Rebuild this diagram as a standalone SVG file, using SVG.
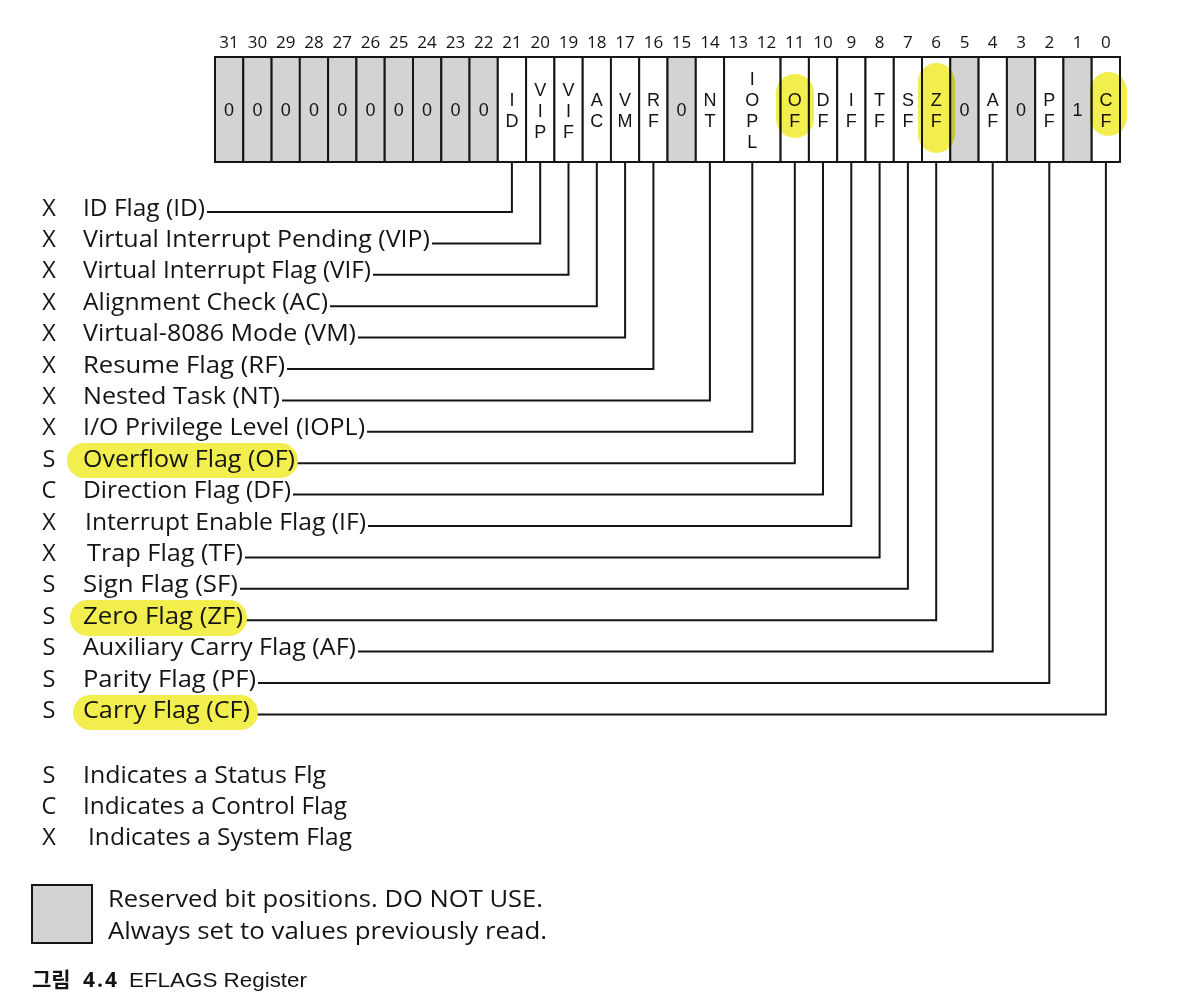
<svg xmlns="http://www.w3.org/2000/svg" width="1180" height="1000" viewBox="0 0 1180 1000">
<style>
.t{font-family:"Open Sans","Noto Sans",sans-serif;font-size:23.5px;font-weight:500;fill:#141414}
.bn{font-family:"Open Sans","Noto Sans",sans-serif;font-size:17px;font-weight:500;fill:#141414;text-anchor:middle}
.cl{font-family:"Liberation Sans",Arial,sans-serif;font-size:18px;fill:#141414;text-anchor:middle}
.k{text-anchor:middle}
.res{fill:#d3d3d3;stroke:#151515;stroke-width:2}
.flg{fill:#ffffff;stroke:#151515;stroke-width:2}
.conn{fill:none;stroke:#151515;stroke-width:2}
.hl{fill:#f2ee4e}
.hlm{fill:#f2ee4e;mix-blend-mode:multiply}
</style>
<rect x="0" y="0" width="1180" height="1000" fill="#ffffff"/>

<g id="bit-numbers">
<text class="bn" x="229.1" y="48">31</text>
<text class="bn" x="257.4" y="48">30</text>
<text class="bn" x="285.7" y="48">29</text>
<text class="bn" x="314.0" y="48">28</text>
<text class="bn" x="342.3" y="48">27</text>
<text class="bn" x="370.6" y="48">26</text>
<text class="bn" x="398.8" y="48">25</text>
<text class="bn" x="427.1" y="48">24</text>
<text class="bn" x="455.4" y="48">23</text>
<text class="bn" x="483.7" y="48">22</text>
<text class="bn" x="511.9" y="48">21</text>
<text class="bn" x="540.2" y="48">20</text>
<text class="bn" x="568.5" y="48">19</text>
<text class="bn" x="596.8" y="48">18</text>
<text class="bn" x="625.1" y="48">17</text>
<text class="bn" x="653.4" y="48">16</text>
<text class="bn" x="681.6" y="48">15</text>
<text class="bn" x="709.9" y="48">14</text>
<text class="bn" x="738.2" y="48">13</text>
<text class="bn" x="766.5" y="48">12</text>
<text class="bn" x="794.8" y="48">11</text>
<text class="bn" x="823.0" y="48">10</text>
<text class="bn" x="851.3" y="48">9</text>
<text class="bn" x="879.6" y="48">8</text>
<text class="bn" x="907.9" y="48">7</text>
<text class="bn" x="936.2" y="48">6</text>
<text class="bn" x="964.5" y="48">5</text>
<text class="bn" x="992.7" y="48">4</text>
<text class="bn" x="1021.0" y="48">3</text>
<text class="bn" x="1049.3" y="48">2</text>
<text class="bn" x="1077.6" y="48">1</text>
<text class="bn" x="1105.9" y="48">0</text>
</g>

<g id="register">
<g id="bit-31"><rect class="res" x="215.0" y="57" width="28.3" height="105"/><text class="cl" x="229.1" y="116">0</text></g>
<g id="bit-30"><rect class="res" x="243.3" y="57" width="28.3" height="105"/><text class="cl" x="257.4" y="116">0</text></g>
<g id="bit-29"><rect class="res" x="271.6" y="57" width="28.3" height="105"/><text class="cl" x="285.7" y="116">0</text></g>
<g id="bit-28"><rect class="res" x="299.8" y="57" width="28.3" height="105"/><text class="cl" x="314.0" y="116">0</text></g>
<g id="bit-27"><rect class="res" x="328.1" y="57" width="28.3" height="105"/><text class="cl" x="342.3" y="116">0</text></g>
<g id="bit-26"><rect class="res" x="356.4" y="57" width="28.3" height="105"/><text class="cl" x="370.6" y="116">0</text></g>
<g id="bit-25"><rect class="res" x="384.7" y="57" width="28.3" height="105"/><text class="cl" x="398.8" y="116">0</text></g>
<g id="bit-24"><rect class="res" x="413.0" y="57" width="28.3" height="105"/><text class="cl" x="427.1" y="116">0</text></g>
<g id="bit-23"><rect class="res" x="441.3" y="57" width="28.3" height="105"/><text class="cl" x="455.4" y="116">0</text></g>
<g id="bit-22"><rect class="res" x="469.5" y="57" width="28.3" height="105"/><text class="cl" x="483.7" y="116">0</text></g>
<g id="bit-21-ID"><rect class="flg" x="497.8" y="57" width="28.3" height="105"/><text class="cl"><tspan x="511.9" y="106">I</tspan><tspan x="511.9" y="127">D</tspan></text></g>
<g id="bit-20-VIP"><rect class="flg" x="526.1" y="57" width="28.3" height="105"/><text class="cl"><tspan x="540.2" y="95.5">V</tspan><tspan x="540.2" y="116.5">I</tspan><tspan x="540.2" y="137.5">P</tspan></text></g>
<g id="bit-19-VIF"><rect class="flg" x="554.4" y="57" width="28.3" height="105"/><text class="cl"><tspan x="568.5" y="95.5">V</tspan><tspan x="568.5" y="116.5">I</tspan><tspan x="568.5" y="137.5">F</tspan></text></g>
<g id="bit-18-AC"><rect class="flg" x="582.7" y="57" width="28.3" height="105"/><text class="cl"><tspan x="596.8" y="106">A</tspan><tspan x="596.8" y="127">C</tspan></text></g>
<g id="bit-17-VM"><rect class="flg" x="610.9" y="57" width="28.3" height="105"/><text class="cl"><tspan x="625.1" y="106">V</tspan><tspan x="625.1" y="127">M</tspan></text></g>
<g id="bit-16-RF"><rect class="flg" x="639.2" y="57" width="28.3" height="105"/><text class="cl"><tspan x="653.4" y="106">R</tspan><tspan x="653.4" y="127">F</tspan></text></g>
<g id="bit-15"><rect class="res" x="667.5" y="57" width="28.3" height="105"/><text class="cl" x="681.6" y="116">0</text></g>
<g id="bit-14-NT"><rect class="flg" x="695.8" y="57" width="28.3" height="105"/><text class="cl"><tspan x="709.9" y="106">N</tspan><tspan x="709.9" y="127">T</tspan></text></g>
<g id="bit-13-12-IOPL"><rect class="flg" x="724.1" y="57" width="56.5" height="105"/><text class="cl"><tspan x="752.3" y="85">I</tspan><tspan x="752.3" y="106">O</tspan><tspan x="752.3" y="127">P</tspan><tspan x="752.3" y="148">L</tspan></text></g>
<g id="bit-11-OF"><rect class="flg" x="780.6" y="57" width="28.3" height="105"/><text class="cl"><tspan x="794.8" y="106">O</tspan><tspan x="794.8" y="127">F</tspan></text></g>
<g id="bit-10-DF"><rect class="flg" x="808.9" y="57" width="28.3" height="105"/><text class="cl"><tspan x="823.0" y="106">D</tspan><tspan x="823.0" y="127">F</tspan></text></g>
<g id="bit-9-IF"><rect class="flg" x="837.2" y="57" width="28.3" height="105"/><text class="cl"><tspan x="851.3" y="106">I</tspan><tspan x="851.3" y="127">F</tspan></text></g>
<g id="bit-8-TF"><rect class="flg" x="865.5" y="57" width="28.3" height="105"/><text class="cl"><tspan x="879.6" y="106">T</tspan><tspan x="879.6" y="127">F</tspan></text></g>
<g id="bit-7-SF"><rect class="flg" x="893.8" y="57" width="28.3" height="105"/><text class="cl"><tspan x="907.9" y="106">S</tspan><tspan x="907.9" y="127">F</tspan></text></g>
<g id="bit-6-ZF"><rect class="flg" x="922.0" y="57" width="28.3" height="105"/><text class="cl"><tspan x="936.2" y="106">Z</tspan><tspan x="936.2" y="127">F</tspan></text></g>
<g id="bit-5"><rect class="res" x="950.3" y="57" width="28.3" height="105"/><text class="cl" x="964.5" y="116">0</text></g>
<g id="bit-4-AF"><rect class="flg" x="978.6" y="57" width="28.3" height="105"/><text class="cl"><tspan x="992.7" y="106">A</tspan><tspan x="992.7" y="127">F</tspan></text></g>
<g id="bit-3"><rect class="res" x="1006.9" y="57" width="28.3" height="105"/><text class="cl" x="1021.0" y="116">0</text></g>
<g id="bit-2-PF"><rect class="flg" x="1035.2" y="57" width="28.3" height="105"/><text class="cl"><tspan x="1049.3" y="106">P</tspan><tspan x="1049.3" y="127">F</tspan></text></g>
<g id="bit-1"><rect class="res" x="1063.4" y="57" width="28.3" height="105"/><text class="cl" x="1077.6" y="116">1</text></g>
<g id="bit-0-CF"><rect class="flg" x="1091.7" y="57" width="28.3" height="105"/><text class="cl"><tspan x="1105.9" y="106">C</tspan><tspan x="1105.9" y="127">F</tspan></text></g>
</g>

<g id="register-highlights">
<rect class="hlm" x="776" y="74" width="38" height="64" rx="19"/>
<rect class="hlm" x="918" y="63" width="37" height="90" rx="18.5"/>
<rect class="hlm" x="1090" y="72" width="37" height="64" rx="18.5"/>
</g>

<g id="connectors">
<path class="conn" d="M207 212H511.9V162"/>
<path class="conn" d="M432 243.4H540.2V162"/>
<path class="conn" d="M373 274.8H568.5V162"/>
<path class="conn" d="M330 306.2H596.8V162"/>
<path class="conn" d="M358 337.6H625.1V162"/>
<path class="conn" d="M287 369H653.4V162"/>
<path class="conn" d="M282 400.4H709.9V162"/>
<path class="conn" d="M367 431.8H752.3V162"/>
<path class="conn" d="M297 463.2H794.8V162"/>
<path class="conn" d="M293 494.6H823.0V162"/>
<path class="conn" d="M368 526H851.3V162"/>
<path class="conn" d="M245 557.4H879.6V162"/>
<path class="conn" d="M240 588.8H907.9V162"/>
<path class="conn" d="M245 620.2H936.2V162"/>
<path class="conn" d="M358 651.6H992.7V162"/>
<path class="conn" d="M258 683H1049.3V162"/>
<path class="conn" d="M252 714.4H1105.9V162"/>
</g>

<g id="lbl-ID"><text class="t k" x="49" y="215.5">X</text><text class="t" x="83" y="215.5" textLength="122" lengthAdjust="spacingAndGlyphs">ID Flag (ID)</text></g>
<g id="lbl-VIP"><text class="t k" x="49" y="246.9">X</text><text class="t" x="83" y="246.9" textLength="347" lengthAdjust="spacingAndGlyphs">Virtual Interrupt Pending (VIP)</text></g>
<g id="lbl-VIF"><text class="t k" x="49" y="278.3">X</text><text class="t" x="83" y="278.3" textLength="288" lengthAdjust="spacingAndGlyphs">Virtual Interrupt Flag (VIF)</text></g>
<g id="lbl-AC"><text class="t k" x="49" y="309.7">X</text><text class="t" x="83" y="309.7" textLength="245" lengthAdjust="spacingAndGlyphs">Alignment Check (AC)</text></g>
<g id="lbl-VM"><text class="t k" x="49" y="341.1">X</text><text class="t" x="83" y="341.1" textLength="273" lengthAdjust="spacingAndGlyphs">Virtual-8086 Mode (VM)</text></g>
<g id="lbl-RF"><text class="t k" x="49" y="372.5">X</text><text class="t" x="83" y="372.5" textLength="202" lengthAdjust="spacingAndGlyphs">Resume Flag (RF)</text></g>
<g id="lbl-NT"><text class="t k" x="49" y="403.9">X</text><text class="t" x="83" y="403.9" textLength="197" lengthAdjust="spacingAndGlyphs">Nested Task (NT)</text></g>
<g id="lbl-IOPL"><text class="t k" x="49" y="435.3">X</text><text class="t" x="83" y="435.3" textLength="282" lengthAdjust="spacingAndGlyphs">I/O Privilege Level (IOPL)</text></g>
<g id="lbl-OF"><rect class="hl" x="67" y="443" width="231" height="35" rx="17.5"/><text class="t k" x="49" y="466.7">S</text><text class="t" x="83" y="466.7" textLength="212" lengthAdjust="spacingAndGlyphs">Overflow Flag (OF)</text></g>
<g id="lbl-DF"><text class="t k" x="49" y="498.1">C</text><text class="t" x="83" y="498.1" textLength="208" lengthAdjust="spacingAndGlyphs">Direction Flag (DF)</text></g>
<g id="lbl-IF"><text class="t k" x="49" y="529.5">X</text><text class="t" x="85" y="529.5" textLength="281" lengthAdjust="spacingAndGlyphs">Interrupt Enable Flag (IF)</text></g>
<g id="lbl-TF"><text class="t k" x="49" y="560.9">X</text><text class="t" x="87" y="560.9" textLength="156" lengthAdjust="spacingAndGlyphs">Trap Flag (TF)</text></g>
<g id="lbl-SF"><text class="t k" x="49" y="592.3">S</text><text class="t" x="83" y="592.3" textLength="155" lengthAdjust="spacingAndGlyphs">Sign Flag (SF)</text></g>
<g id="lbl-ZF"><rect class="hl" x="70" y="600" width="177" height="36" rx="18"/><text class="t k" x="49" y="623.7">S</text><text class="t" x="83" y="623.7" textLength="160" lengthAdjust="spacingAndGlyphs">Zero Flag (ZF)</text></g>
<g id="lbl-AF"><text class="t k" x="49" y="655.1">S</text><text class="t" x="83" y="655.1" textLength="273" lengthAdjust="spacingAndGlyphs">Auxiliary Carry Flag (AF)</text></g>
<g id="lbl-PF"><text class="t k" x="49" y="686.5">S</text><text class="t" x="83" y="686.5" textLength="173" lengthAdjust="spacingAndGlyphs">Parity Flag (PF)</text></g>
<g id="lbl-CF"><rect class="hl" x="73" y="695" width="185" height="35" rx="17.5"/><text class="t k" x="49" y="717.9">S</text><text class="t" x="83" y="717.9" textLength="167" lengthAdjust="spacingAndGlyphs">Carry Flag (CF)</text></g>

<g id="legend-S"><text class="t k" x="49" y="783">S</text><text class="t" x="83" y="783" textLength="243" lengthAdjust="spacingAndGlyphs">Indicates a Status Flg</text></g>
<g id="legend-C"><text class="t k" x="49" y="814">C</text><text class="t" x="83" y="814" textLength="264" lengthAdjust="spacingAndGlyphs">Indicates a Control Flag</text></g>
<g id="legend-X"><text class="t k" x="49" y="845">X</text><text class="t" x="88" y="845" textLength="264" lengthAdjust="spacingAndGlyphs">Indicates a System Flag</text></g>
<g id="legend-reserved">
<rect x="32" y="885" width="60" height="58" fill="#d3d3d3" stroke="#151515" stroke-width="2"/>
<text class="t" x="108" y="907" textLength="435" lengthAdjust="spacingAndGlyphs">Reserved bit positions. DO NOT USE.</text>
<text class="t" x="108" y="939" textLength="439" lengthAdjust="spacingAndGlyphs">Always set to values previously read.</text>
</g>

<g id="caption">
<text x="32" y="987" font-family="'Noto Sans CJK KR','Noto Sans',sans-serif" font-size="21" font-weight="bold" fill="#141414">그림</text>
<text x="83" y="987" font-family="'Open Sans','Noto Sans',sans-serif" font-size="21" font-weight="bold" fill="#141414" letter-spacing="2">4.4</text>
<text x="129" y="987" font-family="'Liberation Sans',Arial,sans-serif" font-size="21" fill="#141414" textLength="178" lengthAdjust="spacingAndGlyphs">EFLAGS Register</text>
</g>
</svg>
